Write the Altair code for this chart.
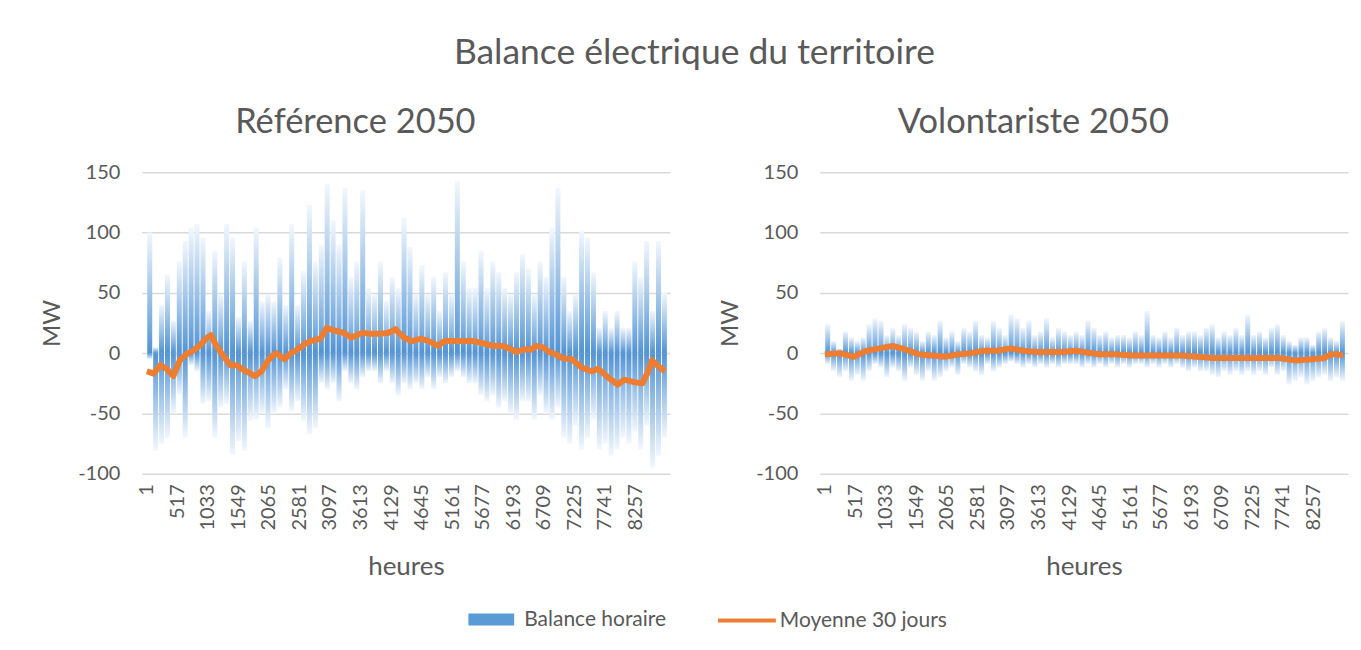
import altair as alt
import pandas as pd

# ---------------- data ----------------
BIN_HOURS = [100 * k + 50 for k in range(88)]

ref_pos = [100, 5, 40, 65, 27, 76, 93, 104, 107, 96, 35, 85, 49, 107, 96, 30, 76, 27, 104, 43,
           49, 43, 79, 40, 107, 40, 68, 123, 76, 90, 140, 110, 90, 137, 63, 76, 135, 54, 49, 76,
           43, 63, 54, 112, 88, 49, 73, 49, 63, 35, 67, 49, 143, 76, 54, 54, 85, 54, 76, 67,
           54, 49, 67, 82, 70, 49, 76, 63, 104, 137, 63, 35, 49, 101, 96, 67, 21, 35, 21, 35,
           21, 21, 76, 63, 93, 35, 93, 50]
ref_neg = [-5, -81, -75, -70, -50, -34, -70, -10, -15, -42, -40, -70, -45, -42, -84, -73, -81, -56, -55, -50,
           -62, -50, -45, -30, -48, -40, -56, -67, -62, -25, -30, -25, -40, -15, -25, -30, -20, -15, -15, -25,
           -15, -25, -35, -25, -30, -25, -30, -20, -30, -20, -25, -20, -15, -20, -25, -25, -35, -40, -35, -45,
           -40, -50, -55, -40, -40, -55, -35, -50, -55, -45, -70, -75, -60, -80, -70, -55, -80, -75, -85, -80,
           -70, -75, -65, -80, -60, -95, -85, -70]

vol_pos = [24, 10, 4, 18, 13, 10, 13, 24, 29, 27, 15, 21, 15, 24, 21, 18, 10, 18, 15, 27,
           13, 18, 10, 21, 18, 27, 15, 13, 27, 21, 15, 32, 29, 21, 27, 15, 18, 29, 13, 21,
           18, 15, 18, 15, 27, 21, 15, 18, 13, 15, 15, 13, 18, 15, 35, 15, 13, 18, 13, 21,
           15, 18, 18, 15, 21, 24, 13, 18, 15, 21, 15, 32, 15, 18, 13, 21, 24, 15, 10, 7,
           13, 13, 7, 18, 21, 13, 10, 27]
vol_neg = [-9, -15, -20, -15, -23, -18, -23, -15, -9, -12, -20, -12, -15, -23, -12, -18, -23, -15, -23, -20,
           -15, -12, -18, -9, -12, -15, -18, -9, -15, -12, -9, -7, -9, -12, -9, -12, -9, -12, -9, -12,
           -9, -9, -9, -12, -9, -12, -9, -12, -9, -12, -9, -12, -9, -9, -12, -9, -12, -9, -12, -9,
           -12, -15, -12, -15, -15, -18, -20, -15, -18, -15, -18, -15, -18, -15, -18, -12, -18, -15, -26, -23,
           -20, -26, -23, -20, -18, -23, -20, -23]

ref_ma_hours = [1, 116, 227, 337, 448, 558, 668, 779, 890, 1000, 1083, 1166, 1276, 1414, 1525, 1608,
                1718, 1829, 1939, 2050, 2105, 2188, 2326, 2436, 2547, 2657, 2768, 2934, 3044, 3155,
                3320, 3459, 3652, 3762, 3928, 4094, 4204, 4260, 4343, 4481, 4646, 4812, 4923, 5033,
                5199, 5365, 5530, 5696, 5862, 6028, 6166, 6249, 6359, 6497, 6580, 6691, 6801, 6912,
                7022, 7188, 7354, 7519, 7630, 7796, 7961, 8072, 8238, 8376, 8459, 8541, 8624, 8760]
ref_ma = [-15, -17, -10, -13, -19, -6, -1, 2, 6, 12, 15, 7, -1, -10, -10, -13,
          -16, -19, -15, -6, -3, 0, -5, 0, 3, 7, 10, 12, 21, 19,
          17, 13, 17, 16, 16, 17, 20, 17, 13, 10, 12, 9, 6, 10,
          10, 10, 10, 8, 6, 6, 3, 1, 3, 3, 6, 5, 1, -1,
          -4, -5, -12, -15, -13, -20, -26, -22, -24, -25, -17, -6, -10, -15]

vol_ma_hours = [1, 265, 486, 707, 928, 1149, 1370, 1591, 1812, 2033, 2254, 2475, 2696, 2917, 3138,
                3359, 3580, 3801, 4022, 4243, 4381, 4635, 4912, 5188, 5464, 5740, 6017, 6293, 6569,
                6845, 7122, 7398, 7674, 7950, 8227, 8448, 8558, 8669, 8760]
vol_ma = [-1, 0, -3, 2, 4, 6, 3, -1, -2, -3, -1, 0, 2, 2, 4,
          2, 1, 1, 1, 2, 1, -1, -1, -2, -2, -2, -2, -3, -4,
          -4, -4, -4, -4, -6, -5, -4, -1, -1, -2]

TICKS = [1 + 516 * i for i in range(17)]
Y_TICKS = [-100, -50, 0, 50, 100, 150]
SERIES_BAR = "Balance horaire"
SERIES_LINE = "Moyenne 30 jours"

BLUE = "#5B9BD5"
ORANGE = "#ED7D31"
TEXT = "#595959"
GRID = "#D9D9D9"
FONT = "Lato"

# ---------------- chart ----------------
stops = [alt.GradientStop(offset=0, color="#5293D3"),
         alt.GradientStop(offset=0.3, color="#82B2E1"),
         alt.GradientStop(offset=1, color="#F2F7FD")]
grad_up = alt.Gradient(gradient="linear", x1=0, y1=1, x2=0, y2=0, stops=stops)
grad_down = alt.Gradient(gradient="linear", x1=0, y1=0, x2=0, y2=1, stops=stops)


def x_enc():
    return alt.X("hour:Q",
                 scale=alt.Scale(domain=[0.5, 8760.5], nice=False, zero=False),
                 axis=alt.Axis(values=TICKS, labelAngle=-90, grid=False, domain=False,
                               ticks=False, labelPadding=10, labelFontSize=20,
                               labelExpr="datum.value + ''",
                               labelColor=TEXT, labelFont=FONT, title="heures",
                               titleFontSize=26, titleFont=FONT, titleColor=TEXT,
                               titleFontWeight="normal", titlePadding=23, labelOverlap=False))


def y_enc(field):
    return alt.Y(field,
                 scale=alt.Scale(domain=[-100, 150], nice=False),
                 axis=alt.Axis(values=Y_TICKS, grid=True, gridColor=GRID,
                               gridWidth=1.5, domain=False, ticks=False, labelPadding=22,
                               labelExpr="datum.value + ''",
                               labelFontSize=20, labelColor=TEXT, labelFont=FONT, title="MW",
                               titleFontSize=24, titleFont=FONT, titleColor=TEXT,
                               titleFontWeight="normal", titlePadding=13))


def panel(title, pos, neg, ma_hours, ma):
    bins = pd.DataFrame({"hour": BIN_HOURS, "pos": pos, "neg": neg, "serie": SERIES_BAR})
    line = pd.DataFrame({"hour": ma_hours, "ma": ma, "serie2": SERIES_LINE})
    stroke_leg = alt.Stroke("serie:N",
                            scale=alt.Scale(domain=[SERIES_BAR], range=[BLUE]),
                            legend=alt.Legend(title=None, orient="none", legendX=321, legendY=419,
                                              symbolType="M-1,0L1,0",
                                              symbolSize=2100, symbolStrokeWidth=12,
                                              labelFontSize=21, labelLimit=300,
                                              labelFont=FONT, labelColor=TEXT, labelOffset=4))
    up = alt.Chart(bins).mark_bar(size=5, fill=grad_up, strokeWidth=0).encode(
        x=x_enc(), y=y_enc("pos:Q"), stroke=stroke_leg)
    down = alt.Chart(bins).mark_bar(size=5, fill=grad_down, strokeWidth=0).encode(
        x=x_enc(), y=y_enc("neg:Q"), stroke=stroke_leg)
    ln = alt.Chart(line).mark_line(strokeWidth=6, strokeJoin="round").encode(
        x=x_enc(), y=y_enc("ma:Q"),
        color=alt.Color("serie2:N",
                        scale=alt.Scale(domain=[SERIES_LINE], range=[ORANGE]),
                        legend=alt.Legend(title=None, orient="none", legendX=575, legendY=418,
                                          symbolType="stroke", symbolSize=3364,
                                          symbolStrokeWidth=4, labelFontSize=21, labelLimit=300,
                                          labelFont=FONT, labelColor=TEXT, labelOffset=2)))
    return alt.layer(up, down, ln).properties(
        width=529, height=302,
        title=alt.TitleParams(title, fontSize=34.5, font=FONT, color=TEXT, fontWeight="normal",
                              anchor="middle", frame="bounds", offset=22))


left = panel("Référence 2050", ref_pos, ref_neg, ref_ma_hours, ref_ma)
right = panel("Volontariste 2050", vol_pos, vol_neg, vol_ma_hours, vol_ma)

chart = alt.hconcat(left, right, spacing=48).resolve_scale(
    stroke="shared", color="shared"
).resolve_legend(stroke="shared", color="shared").properties(
    title=alt.TitleParams("Balance électrique du territoire", fontSize=35.5, font=FONT,
                          color=TEXT, fontWeight="normal", anchor="middle", offset=33),
    padding={"left": 32, "top": 28, "right": 5, "bottom": 5},
).configure_view(stroke=None)

chart.save("out.html", embed_options={"renderer": "svg", "actions": False})
